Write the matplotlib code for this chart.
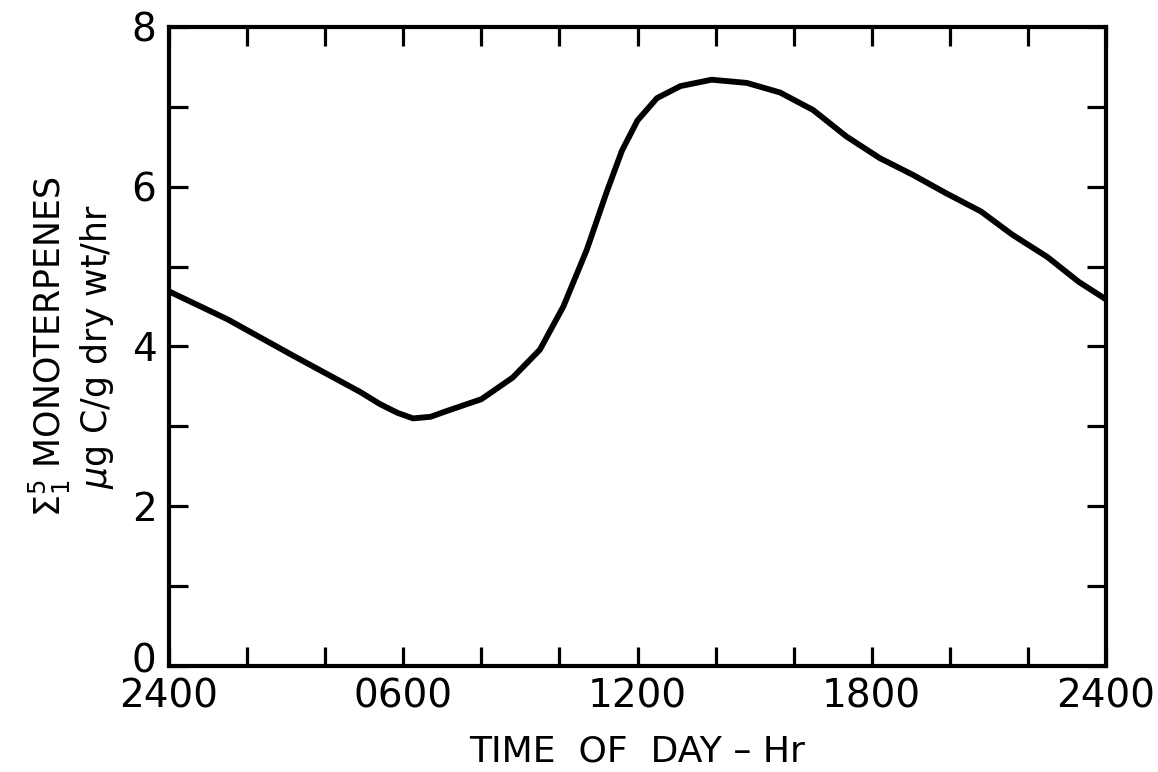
import numpy as np
import matplotlib
matplotlib.use('Agg')
import matplotlib.pyplot as plt
from matplotlib.transforms import ScaledTranslation

# Valores (horas depois de 2400, emissão em ug C/g/hr)
horas = [0, 1.5, 3.2, 4.9, 5.4, 5.85, 6.25, 6.7, 7.1, 8.0, 8.8, 9.5, 10.1, 10.7, 11.2, 11.6, 12.0,
         12.5, 13.1, 13.9, 14.8, 15.65, 16.5, 17.35, 18.2, 19.05, 19.9, 20.8, 21.6, 22.5, 23.3, 24]
emissao = [4.69, 4.34, 3.88, 3.43, 3.28, 3.17, 3.10, 3.12, 3.19, 3.34, 3.61, 3.96, 4.50, 5.21, 5.92, 6.45, 6.83,
           7.11, 7.26, 7.34, 7.30, 7.18, 6.96, 6.63, 6.36, 6.15, 5.92, 5.69, 5.40, 5.12, 4.81, 4.59]

xticks_rot = [0, 6, 12, 18, 24]
xtick_labels = ['2400', '0600', '1200', '1800', '2400']
yticks_rot = [0, 2, 4, 6, 8]

plt.rcParams['font.family'] = ['DejaVu Sans']

fig = plt.figure(figsize=(11.58, 7.72), dpi=100)
ax = fig.add_axes([169 / 1158, 1 - 666 / 772, (1106 - 169) / 1158, (666 - 27) / 772])

ax.plot(horas, emissao, '-', color='black', linewidth=4.2, solid_joinstyle='round', solid_capstyle='butt')

ax.set_xlim(0, 24)
ax.set_ylim(0, 8)

ax.set_xticks(xticks_rot)
ax.set_xticklabels(xtick_labels)
ax.set_xticks(np.arange(0, 25, 2), minor=True)
ax.set_yticks(yticks_rot)
ax.set_yticks(np.arange(0, 9, 1), minor=True)

for s in ax.spines.values():
    s.set_linewidth(3)

ax.tick_params(which='both', direction='in', top=True, right=True, width=2.3, length=14)
ax.tick_params(which='major', labelsize=28)
ax.tick_params(axis='x', which='major', pad=8)
ax.tick_params(axis='y', which='major', pad=9)

# o "0" fica um pouco acima do eixo, como no original
lbl0 = ax.get_yticklabels()[0]
lbl0.set_transform(lbl0.get_transform() + ScaledTranslation(0, 6 / 72, fig.dpi_scale_trans))

ax.set_xlabel('TIME  OF  DAY – Hr', fontsize=26, labelpad=14)
ax.set_ylabel('$\\Sigma_1^5$ MONOTERPENES\n$\\mu$g C/g dry wt/hr', fontsize=25, labelpad=11, linespacing=1.2)

fig.savefig('out.png', dpi=100)
